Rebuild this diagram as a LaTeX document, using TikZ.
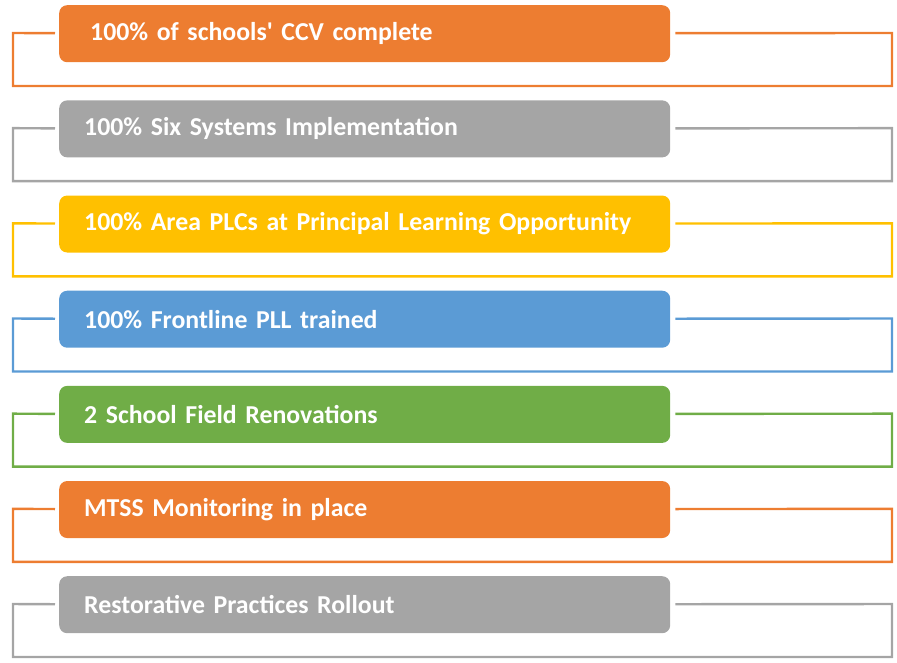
\documentclass[tikz,border=0pt]{standalone}
\usepackage{fontspec}
\newfontfamily\carl{Carlito}
\usetikzlibrary{calc}
\definecolor{corange}{HTML}{ED7D31}
\definecolor{cgray}{HTML}{A5A5A5}
\definecolor{cyellow}{HTML}{FFC000}
\definecolor{cblue}{HTML}{5B9BD5}
\definecolor{cgreen}{HTML}{70AD47}
\tikzset{
  goalbox/.style={fill=#1, draw=none, rounded corners=8pt, minimum width=611pt,
    minimum height=57pt, inner ysep=0pt, align=left,
    text=white, font=\carl\bfseries\fontsize{25.8}{28}\selectfont, anchor=north west},
  bracket/.style={draw=#1, line width=2.4pt}
}
\begin{document}
\begin{tikzpicture}[x=1pt,y=-1pt]
\useasboundingbox (0,0) rectangle (897,663);
\foreach \i/\c/\t/\xs in {0/corange/{100\% of schools' CCV complete}/31,
  1/cgray/{100\% Six Systems Implementation}/25,
  2/cyellow/{100\% Area PLCs at Principal Learning Opportunity}/25,
  3/cblue/{100\% Frontline PLL trained}/25,
  4/cgreen/{2 School Field Renovations}/25,
  5/corange/{MTSS Monitoring in place}/25,
  6/cgray/{Restorative Practices Rollout}/25}{
  \pgfmathsetmacro{\yy}{5+95.17*\i}
  \pgfmathsetmacro{\tw}{611-2*\xs}
  \node[goalbox=\c, inner xsep=\xs pt, text width=\tw pt] (b\i) at (59,\yy) {\t};
  \coordinate (l\i) at ($(b\i.west)+(-4,-0.5)$);
  \coordinate (r\i) at ($(b\i.east)+(5,-0.5)$);
  \draw[bracket=\c] (l\i) -- (13,\yy+28) -- (13,\yy+81) -- (892,\yy+81) -- (892,\yy+28) -- (r\i);
}
\end{tikzpicture}
\end{document}
